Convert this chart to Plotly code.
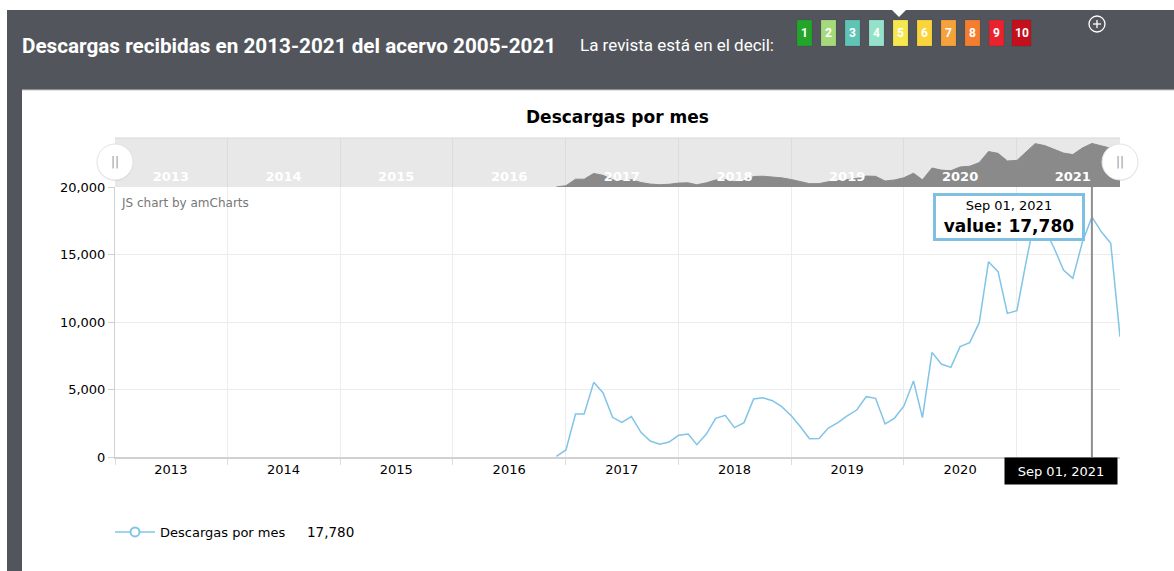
import plotly.graph_objects as go
import pandas as pd

W, H = 1174, 571

# monthly downloads, Jan 2013 .. Dec 2021 (None = no data yet)
months = pd.date_range("2013-01-01", "2021-12-01", freq="MS")
descargas = [None] * 47 + [50] + [
    520, 3185, 3185, 5530, 4765, 2940, 2570, 2990, 1825, 1185, 940, 1110,      # 2017
    1605, 1700, 910, 1700, 2865, 3085, 2175, 2545, 4295, 4395, 4170, 3725,      # 2018
    3060, 2200, 1355, 1370, 2150, 2545, 3040, 3480, 4470, 4345, 2445, 2865,     # 2019
    3780, 5630, 2915, 7750, 6890, 6640, 8175, 8470, 9950, 14470, 13730, 10640,  # 2020
    10840, 14600, 17700, 16900, 15500, 13850, 13230, 15900, 17780, 16700, 15830, 8910,  # 2021
]
years = list(range(2013, 2022))
y_ticks = [0, 5000, 10000, 15000, 20000]
deciles = list(range(1, 11))
decile_colors = ["#22a52a", "#a5d97c", "#5fc4b6", "#93e2c9", "#f6e74e",
                 "#fbd43c", "#f6a23c", "#f47e2e", "#e8232d", "#c3101c"]
sel_idx = 104  # Sep 2021, the cursor point
sel_date = months[sel_idx]
sel_val = descargas[sel_idx]

def px(x):
    return x / W

def py(y):
    return 1 - y / H

line_col = "#80c4e8"
font = "DejaVu Sans, Verdana, sans-serif"
hfont = "Liberation Sans Narrow, Roboto, sans-serif"

fig = go.Figure()

# navigator (scrollbar) area
fig.add_trace(go.Scatter(x=months, y=descargas, mode="lines", fill="tozeroy",
                         line=dict(color="#8a8a8a", width=1), fillcolor="#8a8a8a",
                         xaxis="x2", yaxis="y2", showlegend=False, hoverinfo="skip"))
# main line
fig.add_trace(go.Scatter(x=months, y=descargas, mode="lines",
                         line=dict(color=line_col, width=1.5), showlegend=False))
# legend entry
fig.add_trace(go.Scatter(x=[None], y=[None], mode="lines+markers", name="Descargas por mes",
                         line=dict(color=line_col, width=1.5),
                         marker=dict(size=9, color="white", line=dict(color=line_col, width=2))))

mid_year = [pd.Timestamp(f"{y}-07-01") for y in years]
jan = [pd.Timestamp(f"{y}-01-01") for y in years]
xr = [months[0], months[-1]]

shapes = [
    # page background pieces
    dict(type="rect", xref="paper", yref="paper", x0=px(7), x1=1, y0=py(90), y1=py(10),
         fillcolor="#52565c", line_width=0, layer="below"),
    dict(type="rect", xref="paper", yref="paper", x0=px(7), x1=px(22), y0=0, y1=py(90),
         fillcolor="#52565c", line_width=0, layer="below"),
    dict(type="line", xref="paper", yref="paper", x0=px(22), x1=1, y0=py(90), y1=py(90),
         line=dict(color="#c8c8c8", width=1), layer="below"),
    # decile pointer
    dict(type="path", xref="paper", yref="paper",
         path=f"M {px(892)} {py(10)} L {px(906)} {py(10)} L {px(899)} {py(17)} Z",
         fillcolor="white", line_width=0),
    # plus icon
    dict(type="circle", xref="paper", yref="paper", x0=px(1089), x1=px(1105), y0=py(32), y1=py(16),
         line=dict(color="white", width=1.3)),
    dict(type="line", xref="paper", yref="paper", x0=px(1093), x1=px(1101), y0=py(24), y1=py(24),
         line=dict(color="white", width=1.3)),
    dict(type="line", xref="paper", yref="paper", x0=px(1097), x1=px(1097), y0=py(20), y1=py(28),
         line=dict(color="white", width=1.3)),
    # navigator background
    dict(type="rect", xref="x2 domain", yref="y2 domain", x0=0, x1=1, y0=0, y1=1,
         fillcolor="#e8e8e8", line_width=0, layer="below"),
    dict(type="line", xref="x2 domain", yref="y2 domain", x0=0, x1=1, y0=1, y1=1,
         line=dict(color="#d8d8d8", width=1), layer="below"),
    # cursor line
    dict(type="line", xref="x", yref="y domain", x0=sel_date, x1=sel_date, y0=0, y1=1,
         line=dict(color="#8f8f8f", width=2)),
]

# decile boxes
ann = []
bx = [797, 821, 845, 869, 893, 917, 941, 965, 989, 1012]
for d, c, x0 in zip(deciles, decile_colors, bx):
    w = 15 if d < 10 else 19
    shapes.append(dict(type="rect", xref="paper", yref="paper", x0=px(x0), x1=px(x0 + w),
                       y0=py(46), y1=py(20), fillcolor=c, line=dict(color="rgba(0,0,0,0.08)", width=1)))
    ann.append(dict(x=px(x0 + w / 2), y=py(33), xref="paper", yref="paper", text=f"<b>{d}</b>",
                    xanchor="center", yanchor="middle",
                    showarrow=False, font=dict(family=hfont, size=12, color="white")))

# navigator handles
for hx in (115, 1120):
    shapes.append(dict(type="circle", xref="paper", yref="paper", x0=px(hx - 18), x1=px(hx + 18),
                       y0=py(181), y1=py(145), fillcolor="rgba(0,0,0,0.08)", line_width=0))
    shapes.append(dict(type="circle", xref="paper", yref="paper", x0=px(hx - 18), x1=px(hx + 18),
                       y0=py(180), y1=py(144), fillcolor="white", line=dict(color="#e2e2e2", width=1)))
    ann.append(dict(x=px(hx), y=py(162), xref="paper", yref="paper", text="||", showarrow=False,
                    xanchor="center", yanchor="middle",
                    font=dict(family=font, size=12, color="#999999")))

ann += [
    dict(x=px(20), y=py(46), xref="paper", yref="paper", xanchor="left", yanchor="middle",
         text="<b>Descargas recibidas en 2013-2021 del acervo 2005-2021</b>", showarrow=False,
         font=dict(family=hfont, size=20.7, color="white")),
    dict(x=px(578), y=py(45), xref="paper", yref="paper", xanchor="left", yanchor="middle",
         text="La revista está en el decil:", showarrow=False,
         font=dict(family=hfont, size=17, color="white")),
    dict(x=px(617), y=py(117), xref="paper", yref="paper", xanchor="center", yanchor="middle",
         text="<b>Descargas por mes</b>", showarrow=False,
         font=dict(family=font, size=17, color="black")),
    dict(x=px(119), y=py(203), xref="paper", yref="paper", xanchor="left", yanchor="middle",
         text="JS chart by amCharts", showarrow=False,
         font=dict(family=font, size=12, color="#777777")),
    # tooltip balloon
    dict(x=sel_date, y=sel_val, xref="x", yref="y", xanchor="right", yanchor="middle", xshift=-7,
         text=f"<span style='font-size:13px'>{sel_date:%b %d, %Y}</span><br><b>value: {sel_val:,}</b>",
         showarrow=False, bgcolor="white", bordercolor="#7fc0e2", borderwidth=3, borderpad=2,
         width=142, height=38,
         font=dict(family=font, size=17, color="black")),
    # cursor category label
    dict(x=px(1118), y=py(457), xref="paper", yref="paper", xanchor="right", yanchor="top",
         text=f"{sel_date:%b %d, %Y}", showarrow=False, bgcolor="black", borderpad=5,
         width=102, height=16,
         font=dict(family=font, size=13, color="white")),
    # legend value
    dict(x=px(305), y=py(532), xref="paper", yref="paper", xanchor="left", yanchor="middle",
         text=f"{sel_val:,}", showarrow=False, font=dict(family=font, size=13.5, color="black")),
]

fig.update_layout(
    width=W, height=H, autosize=False,
    margin=dict(l=0, r=0, t=0, b=0, pad=0, autoexpand=False),
    paper_bgcolor="white", plot_bgcolor="rgba(0,0,0,0)",
    shapes=shapes, annotations=ann, hovermode=False,
    showlegend=True,
    legend=dict(x=px(110), y=py(532), xanchor="left", yanchor="middle", itemwidth=40,
                font=dict(family=font, size=13, color="black"), bgcolor="rgba(0,0,0,0)"),
    xaxis=dict(domain=[px(115), px(1120)], anchor="y", range=xr, type="date",
               tickvals=mid_year[:-1], ticktext=[str(y) for y in years[:-1]], ticks="", showgrid=False,
               showline=True, linecolor="#d0d0d0", linewidth=1.5,
               tickfont=dict(family=font, size=13, color="black"),
               minor=dict(tickvals=jan, showgrid=True, gridcolor="#ececec", gridwidth=1,
                          ticks="outside", ticklen=6, tickcolor="#dddddd")),
    yaxis=dict(domain=[py(457), py(187)], anchor="x", range=[0, 20000],
               tickvals=y_ticks, tickformat=",", showgrid=True, gridcolor="#ececec",
               showline=True, linecolor="#d0d0d0", linewidth=1, zeroline=False,
               ticks="outside", ticklen=6, tickcolor="#d0d0d0",
               tickfont=dict(family=font, size=13, color="black")),
    xaxis2=dict(domain=[px(115), px(1120)], anchor="y2", range=xr, type="date",
                tickvals=mid_year, ticktext=[f"<b>{y}</b>" for y in years], ticks="",
                ticklabelposition="inside", showgrid=False, showline=False,
                tickfont=dict(family=font, size=13, color="white"),
                minor=dict(tickvals=jan, showgrid=True, gridcolor="#dcdcdc", gridwidth=1)),
    yaxis2=dict(domain=[py(187), py(138)], anchor="x2", range=[0, 20000],
                showticklabels=False, showgrid=False, zeroline=False, showline=False),
)

fig.write_html("out.html", config={"displayModeBar": False},
               post_script="document.body.style.margin='0';")
